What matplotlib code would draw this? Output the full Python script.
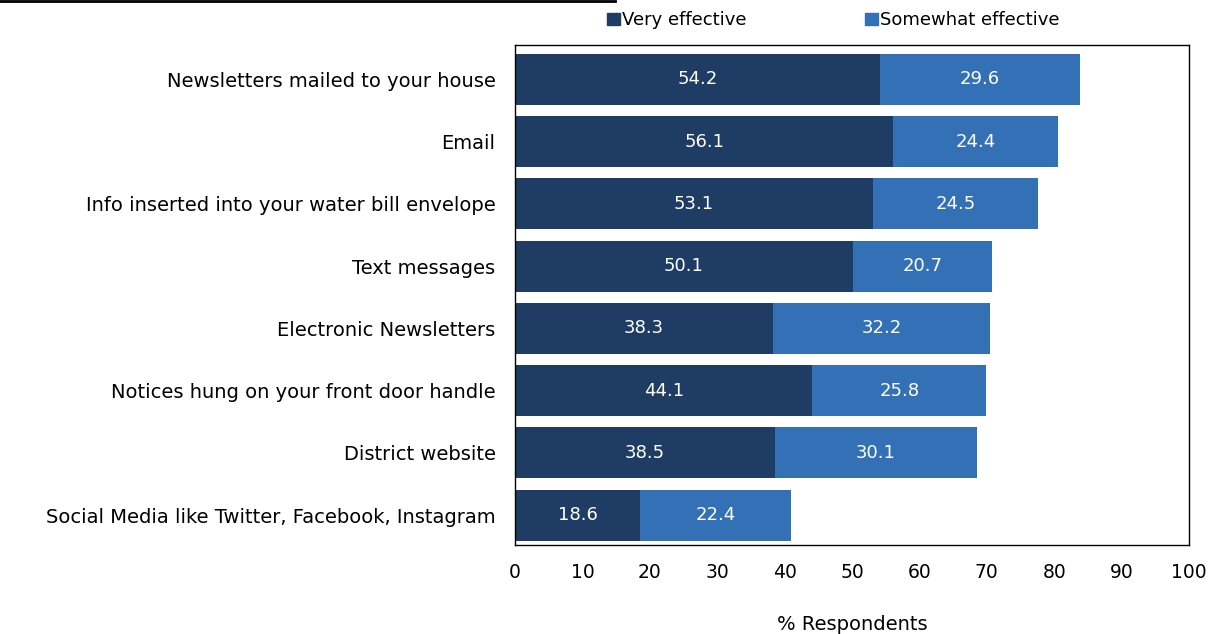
import numpy as np
import matplotlib.pyplot as plt
from matplotlib.patches import Patch

# Survey results: how effective is each communication channel
channels = ['Newsletters mailed to your house',
            'Email',
            'Info inserted into your water bill envelope',
            'Text messages',
            'Electronic Newsletters',
            'Notices hung on your front door handle',
            'District website',
            'Social Media like Twitter, Facebook, Instagram']
very_effective = [54.2, 56.1, 53.1, 50.1, 38.3, 44.1, 38.5, 18.6]
somewhat_effective = [29.6, 24.4, 24.5, 20.7, 32.2, 25.8, 30.1, 22.4]

dark_blue = '#1f3c64'
light_blue = '#3470b6'

plt.rcParams['font.family'] = 'DejaVu Sans'

fig = plt.figure(figsize=(12.15, 6.34), dpi=100)
ax = fig.add_axes([0.4239, 0.1404, 0.5547, 0.7886])

y = np.arange(len(channels))[::-1]
ax.barh(y, very_effective, height=0.82, color=dark_blue)
ax.barh(y, somewhat_effective, left=very_effective, height=0.82, color=light_blue)

for yi, v, s in zip(y, very_effective, somewhat_effective):
    ax.text(v / 2, yi, f'{v:.1f}', color='white', ha='center', va='center', fontsize=13)
    ax.text(v + s / 2, yi, f'{s:.1f}', color='white', ha='center', va='center', fontsize=13)

ax.set_xlim(0, 100)
ax.set_ylim(-0.48, 7.55)
ax.set_xticks(range(0, 101, 10))
ax.set_yticks(y)
ax.set_yticklabels(channels, fontsize=14)
ax.tick_params(axis='both', length=0)
ax.tick_params(axis='x', labelsize=13.5, pad=13)
ax.tick_params(axis='y', pad=14)
ax.set_xlabel('% Respondents', fontsize=14, labelpad=24)
for sp in ax.spines.values():
    sp.set_linewidth(1)
    sp.set_color('black')

handles = [Patch(color=dark_blue, label='Very effective'),
           Patch(color=light_blue, label='Somewhat effective')]
fig.legend(handles=handles, ncol=2, loc='center left', bbox_to_anchor=(0.4995, 0.968),
           frameon=False, fontsize=13, handlelength=0.7, handleheight=0.7,
           handletextpad=0.15, columnspacing=6.55, borderaxespad=0, borderpad=0)

# thin rule across the top left
fig.add_artist(plt.Line2D([0, 0.506], [0.998, 0.998], color='black', linewidth=2))

fig.savefig('out.png', dpi=100)
